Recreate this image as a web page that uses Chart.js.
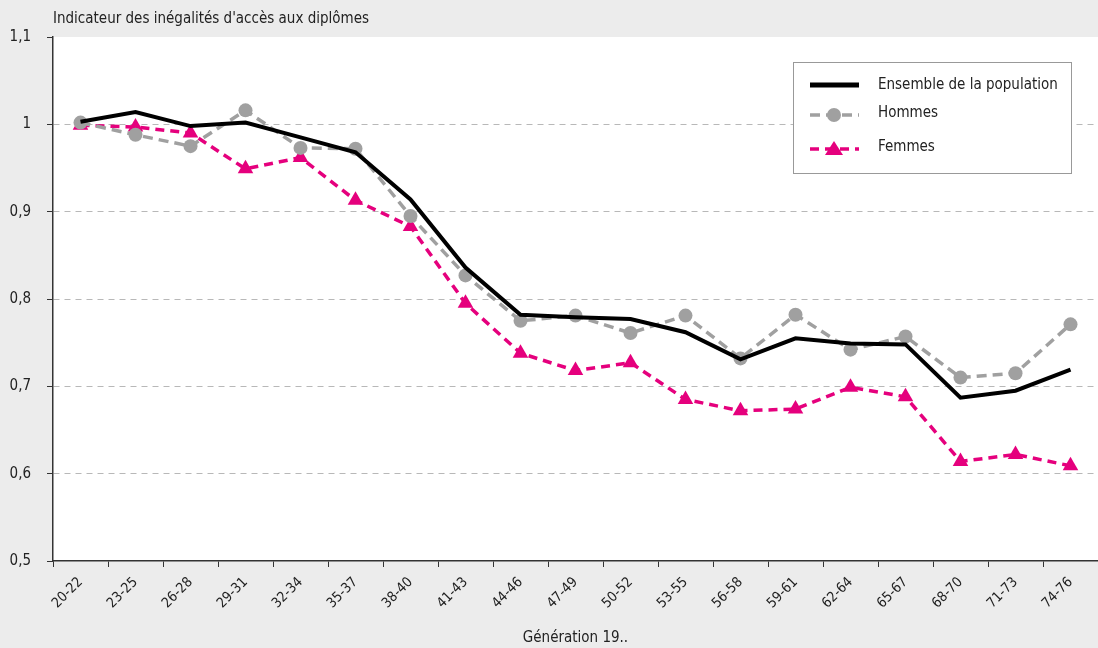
<!DOCTYPE html>
<html>
<head>
<meta charset="utf-8">
<script src="https://cdn.jsdelivr.net/npm/chart.js@4/dist/chart.umd.min.js"></script>
<style>
    body { margin: 0; background: #ececec; }
    canvas { display: block; }
</style>
</head>
<body>
<canvas id="chart" width="1098" height="648"></canvas>
<script>
// Générations (x axis categories)
const generations = ['20-22', '23-25', '26-28', '29-31', '32-34', '35-37', '38-40', '41-43', '44-46',
    '47-49', '50-52', '53-55', '56-58', '59-61', '62-64', '65-67', '68-70', '71-73', '74-76'];

// Indicateur values
const ensemble = [1.003, 1.014, 0.998, 1.002, 0.985, 0.968, 0.914, 0.836, 0.782, 0.779,
    0.777, 0.762, 0.731, 0.755, 0.749, 0.748, 0.687, 0.695, 0.719];
const hommes = [1.002, 0.988, 0.975, 1.016, 0.973, 0.972, 0.895, 0.827, 0.775, 0.781,
    0.761, 0.781, 0.732, 0.782, 0.742, 0.757, 0.710, 0.715, 0.771];
const femmes = [0.999, 0.997, 0.990, 0.949, 0.962, 0.913, 0.883, 0.795, 0.738, 0.718,
    0.727, 0.685, 0.672, 0.674, 0.699, 0.688, 0.614, 0.622, 0.609];

const yTicks = [0.5, 0.6, 0.7, 0.8, 0.9, 1.0, 1.1];

const FONT = '"Liberation Sans Narrow", "DejaVu Sans Condensed", "Roboto", sans-serif';
const MAGENTA = '#e5007d';
const GREY = '#a0a0a0';

// Paint grey page, white plot area, title and legend box
const decor = {
    id: 'decor',
    beforeDraw(chart) {
        const { ctx, chartArea: a } = chart;
        ctx.save();
        ctx.fillStyle = '#ececec';
        ctx.fillRect(0, 0, chart.width, chart.height);
        ctx.fillStyle = '#ffffff';
        ctx.fillRect(a.left, a.top, a.right - a.left, a.bottom - a.top);
        ctx.fillStyle = '#222';
        ctx.font = '15px ' + FONT;
        ctx.textBaseline = 'middle';
        ctx.fillText("Indicateur des inégalités d'accès aux diplômes", a.left, 19);
        ctx.restore();
    },
    afterDraw(chart) {
        const { ctx } = chart;
        ctx.save();
        // legend box
        ctx.fillStyle = '#ffffff';
        ctx.fillRect(793, 62, 278, 111);
        ctx.strokeStyle = '#999';
        ctx.lineWidth = 1;
        ctx.strokeRect(793.5, 62.5, 278, 111);
        const rows = [85, 115, 149];
        chart.data.datasets.forEach((ds, i) => {
            const y = rows[i];
            ctx.strokeStyle = ds.borderColor;
            ctx.lineWidth = ds.borderWidth + (i === 0 ? 1 : 0);
            ctx.setLineDash(ds.borderDash || []);
            ctx.beginPath();
            ctx.moveTo(810, y);
            ctx.lineTo(859, y);
            ctx.stroke();
            ctx.setLineDash([]);
            ctx.fillStyle = ds.borderColor;
            if (ds.pointStyle === 'circle') {
                ctx.beginPath();
                ctx.arc(834, y, 7, 0, Math.PI * 2);
                ctx.fill();
            } else if (ds.pointStyle === 'triangle') {
                ctx.beginPath();
                ctx.moveTo(834, y - 8);
                ctx.lineTo(843, y + 6);
                ctx.lineTo(825, y + 6);
                ctx.closePath();
                ctx.fill();
            }
            ctx.fillStyle = '#222';
            ctx.font = '15px ' + FONT;
            ctx.textBaseline = 'middle';
            ctx.fillText(ds.label, 878, y - (i === 0 ? 0 : 2));
        });
        ctx.restore();
    }
};

const ctx = document.getElementById('chart').getContext('2d');

new Chart(ctx, {
    type: 'line',
    data: {
        labels: generations,
        datasets: [{
            label: 'Ensemble de la population',
            data: ensemble,
            borderColor: '#000000',
            borderWidth: 4,
            pointRadius: 0,
            pointHoverRadius: 0,
            tension: 0
        }, {
            label: 'Hommes',
            data: hommes,
            borderColor: GREY,
            backgroundColor: GREY,
            borderWidth: 3.5,
            borderDash: [10, 6],
            pointStyle: 'circle',
            pointRadius: 7,
            pointBorderWidth: 0,
            tension: 0
        }, {
            label: 'Femmes',
            data: femmes,
            borderColor: MAGENTA,
            backgroundColor: MAGENTA,
            borderWidth: 3.5,
            borderDash: [9, 6],
            pointStyle: 'triangle',
            pointRadius: 9,
            pointBorderWidth: 0,
            tension: 0
        }]
    },
    options: {
        responsive: false,
        animation: false,
        layout: { autoPadding: false, padding: { top: 37, right: 0, left: 0, bottom: 0 } },
        plugins: {
            legend: { display: false },
            tooltip: { enabled: false }
        },
        scales: {
            x: {
                offset: true,
                afterFit(scale) {
                    scale.height = 87;
                    scale.paddingRight = 0;
                    scale.paddingLeft = 0;
                },
                grid: {
                    offset: true,
                    drawOnChartArea: false,
                    drawTicks: true,
                    tickLength: 6,
                    tickColor: '#333'
                },
                border: { color: '#333', width: 1.5 },
                ticks: {
                    minRotation: 45,
                    maxRotation: 45,
                    autoSkip: false,
                    padding: 7,
                    color: '#222',
                    font: { family: FONT, size: 14 }
                },
                title: {
                    display: true,
                    text: 'Génération 19..',
                    color: '#222',
                    padding: { top: 4, bottom: 1 },
                    font: { family: FONT, size: 15 }
                }
            },
            y: {
                min: 0.5,
                max: 1.1,
                afterFit(scale) { scale.width = 53; },
                afterBuildTicks(scale) { scale.ticks = yTicks.map(v => ({ value: v })); },
                grid: {
                    color(c) { return (c.tick && (c.tick.value > 1.05 || c.tick.value < 0.55)) ? 'rgba(0,0,0,0)' : '#b8b8b8'; },
                    tickColor: '#333',
                    tickLength: 6,
                    tickBorderDash: []
                },
                border: { color: '#333', width: 1.5, dash: [6, 5] },
                ticks: {
                    padding: 16,
                    color: '#222',
                    font: { family: FONT, size: 15 },
                    callback(v) { return (Math.round(v * 10) / 10).toString().replace('.', ','); }
                }
            }
        }
    },
    plugins: [decor]
});
</script>
</body>
</html>
